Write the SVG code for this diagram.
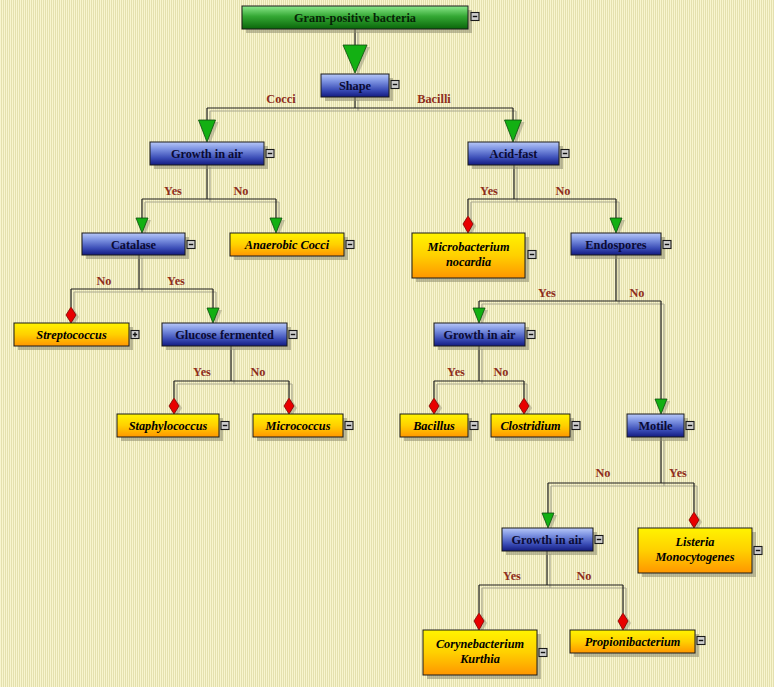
<svg xmlns="http://www.w3.org/2000/svg" width="774" height="687" viewBox="0 0 774 687">
<defs>
<pattern id="bg" x="0" y="0" width="2" height="4" patternUnits="userSpaceOnUse">
<rect x="0" y="0" width="1" height="4" fill="#f8f5cf"/>
<rect x="1" y="0" width="1" height="4" fill="#e4e0ae"/>
</pattern>
<linearGradient id="gBlue" x1="0" y1="0" x2="0" y2="1">
<stop offset="0" stop-color="#b8c8f8"/>
<stop offset="0.3" stop-color="#7e94e2"/>
<stop offset="0.7" stop-color="#3a4cb6"/>
<stop offset="1" stop-color="#131b80"/>
</linearGradient>
<linearGradient id="gOrange" x1="0" y1="0" x2="0" y2="1">
<stop offset="0" stop-color="#fff400"/>
<stop offset="0.5" stop-color="#ffd000"/>
<stop offset="1" stop-color="#ff9600"/>
</linearGradient>
<linearGradient id="gGreen" x1="0" y1="0" x2="0" y2="1">
<stop offset="0" stop-color="#8ce88c"/>
<stop offset="0.45" stop-color="#34a834"/>
<stop offset="1" stop-color="#0a660a"/>
</linearGradient>
<style>
.sh{fill:#8c8a70;opacity:0.55}
.box{stroke:#1a1a1a;stroke-width:1}
.blue{fill:url(#gBlue)}
.orange{fill:url(#gOrange)}
.green{fill:url(#gGreen)}
.t{font-family:"Liberation Serif","Times New Roman",serif;font-size:12.3px;font-weight:bold;text-anchor:middle}
.tb{fill:#0a0a34}
.to{fill:#000;font-style:italic}
.tg{fill:#062406}
.lbl{font-family:"Liberation Serif","Times New Roman",serif;font-size:12.3px;font-weight:bold;fill:#8e2e1c;text-anchor:middle}
.ln{fill:none;stroke:#1e1e1e;stroke-width:1.2}
.lns{fill:none;stroke:#aaa890;stroke-width:1.2}
.tri{fill:#13b013;stroke:#0c4a0c;stroke-width:0.8}
.dia{fill:#e80000;stroke:#7a0000;stroke-width:0.8}
.ash{fill:#8c8a70;opacity:0.45}
.mb{fill:#cdcdcd;stroke:#1a1a1a;stroke-width:1.1}
.mm{stroke:#111;stroke-width:1.4}
</style>
</defs>
<rect x="0" y="0" width="774" height="687" fill="url(#bg)"/>

<g id="connectors">
<g transform="translate(3,3)">
<path class="lns" d="M355,29 V45 M355,97 V108 M207,108 H513 M207,108 V120 M513,108 V120
M207,164 V199 M142,199 H276 M142,199 V218 M276,199 V218
M514,164 V199 M468,199 H616 M468,199 V216 M616,199 V218
M139,255 V289 M71,289 H213 M71,289 V307 M213,289 V308
M231,346 V381 M174,381 H289 M174,381 V398 M289,381 V398
M616,255 V301 M479,301 H661 M479,301 V308 M661,301 V399
M479,346 V381 M434,381 H524 M434,381 V398 M524,381 V398
M661,437 V483 M548,483 H694 M548,483 V513 M694,483 V512
M547,551 V585 M479,585 H623 M479,585 V613 M623,585 V613"/>
</g>
<path class="ln" d="M355,29 V45 M355,97 V108 M207,108 H513 M207,108 V120 M513,108 V120
M207,164 V199 M142,199 H276 M142,199 V218 M276,199 V218
M514,164 V199 M468,199 H616 M468,199 V216 M616,199 V218
M139,255 V289 M71,289 H213 M71,289 V307 M213,289 V308
M231,346 V381 M174,381 H289 M174,381 V398 M289,381 V398
M616,255 V301 M479,301 H661 M479,301 V308 M661,301 V399
M479,346 V381 M434,381 H524 M434,381 V398 M524,381 V398
M661,437 V483 M548,483 H694 M548,483 V513 M694,483 V512
M547,551 V585 M479,585 H623 M479,585 V613 M623,585 V613"/>
<g transform="translate(3,2)">
<path class="ash" d="M343,45 L367,45 L355,73 Z"/>
<path class="ash" d="M198.5,120 L215.5,120 L207,142 Z"/>
<path class="ash" d="M504.5,120 L521.5,120 L513,142 Z"/>
<path class="ash" d="M136,218 L148,218 L142,233 Z"/>
<path class="ash" d="M270,218 L282,218 L276,233 Z"/>
<path class="ash" d="M610,218 L622,218 L616,233 Z"/>
<path class="ash" d="M207,308 L219,308 L213,323 Z"/>
<path class="ash" d="M473,308 L485,308 L479,323 Z"/>
<path class="ash" d="M655,399 L667,399 L661,414 Z"/>
<path class="ash" d="M542,513 L554,513 L548,528 Z"/>
<path class="ash" d="M468,216 L473,224 L468,233 L463,224 Z"/>
<path class="ash" d="M71,307 L76,315 L71,323 L66,315 Z"/>
<path class="ash" d="M174,398 L179,406 L174,414 L169,406 Z"/>
<path class="ash" d="M289,398 L294,406 L289,414 L284,406 Z"/>
<path class="ash" d="M434,398 L439,406 L434,414 L429,406 Z"/>
<path class="ash" d="M524,398 L529,406 L524,414 L519,406 Z"/>
<path class="ash" d="M694,512 L699,520 L694,528 L689,520 Z"/>
<path class="ash" d="M479,613 L484,621 L479,630 L474,621 Z"/>
<path class="ash" d="M623,613 L628,621 L623,630 L618,621 Z"/>
</g>
<path class="tri" d="M343,45 L367,45 L355,73 Z"/>
<path class="tri" d="M198.5,120 L215.5,120 L207,142 Z"/>
<path class="tri" d="M504.5,120 L521.5,120 L513,142 Z"/>
<path class="tri" d="M136,218 L148,218 L142,233 Z"/>
<path class="tri" d="M270,218 L282,218 L276,233 Z"/>
<path class="tri" d="M610,218 L622,218 L616,233 Z"/>
<path class="tri" d="M207,308 L219,308 L213,323 Z"/>
<path class="tri" d="M473,308 L485,308 L479,323 Z"/>
<path class="tri" d="M655,399 L667,399 L661,414 Z"/>
<path class="tri" d="M542,513 L554,513 L548,528 Z"/>
<path class="dia" d="M468,216 L473,224 L468,233 L463,224 Z"/>
<path class="dia" d="M71,307 L76,315 L71,323 L66,315 Z"/>
<path class="dia" d="M174,398 L179,406 L174,414 L169,406 Z"/>
<path class="dia" d="M289,398 L294,406 L289,414 L284,406 Z"/>
<path class="dia" d="M434,398 L439,406 L434,414 L429,406 Z"/>
<path class="dia" d="M524,398 L529,406 L524,414 L519,406 Z"/>
<path class="dia" d="M694,512 L699,520 L694,528 L689,520 Z"/>
<path class="dia" d="M479,613 L484,621 L479,630 L474,621 Z"/>
<path class="dia" d="M623,613 L628,621 L623,630 L618,621 Z"/>
<text class="lbl" x="281" y="103">Cocci</text>
<text class="lbl" x="434" y="103">Bacilli</text>
<text class="lbl" x="173" y="195">Yes</text>
<text class="lbl" x="241" y="195">No</text>
<text class="lbl" x="489" y="195">Yes</text>
<text class="lbl" x="563" y="195">No</text>
<text class="lbl" x="104" y="285">No</text>
<text class="lbl" x="176" y="285">Yes</text>
<text class="lbl" x="202" y="376">Yes</text>
<text class="lbl" x="258" y="376">No</text>
<text class="lbl" x="547" y="297">Yes</text>
<text class="lbl" x="637" y="297">No</text>
<text class="lbl" x="456" y="376">Yes</text>
<text class="lbl" x="501" y="376">No</text>
<text class="lbl" x="603" y="477">No</text>
<text class="lbl" x="678" y="477">Yes</text>
<text class="lbl" x="512" y="580">Yes</text>
<text class="lbl" x="584" y="580">No</text>
</g>

<g id="n-root">
<rect class="sh" x="246" y="10" width="226" height="23"/>
<rect class="box green" x="242" y="6" width="226" height="23"/>
<text class="t tg" x="355" y="22">Gram-positive bacteria</text>
<rect class="mb" x="471" y="12.5" width="8" height="8"/><path class="mm" d="M472.8,16.5 H477.2"/>
</g>
<g id="n-shape">
<rect class="sh" x="325" y="78" width="68" height="23"/>
<rect class="box blue" x="321" y="74" width="68" height="23"/>
<text class="t tb" x="355" y="90">Shape</text>
<rect class="mb" x="391" y="80.5" width="8" height="8"/><path class="mm" d="M392.8,84.5 H397.2"/>
</g>
<g id="n-growth1">
<rect class="sh" x="154" y="146" width="114" height="23"/>
<rect class="box blue" x="150" y="142" width="114" height="23"/>
<text class="t tb" x="207" y="158">Growth in air</text>
<rect class="mb" x="266" y="149.5" width="8" height="8"/><path class="mm" d="M267.8,153.5 H272.2"/>
</g>
<g id="n-acidfast">
<rect class="sh" x="472" y="146" width="91" height="23"/>
<rect class="box blue" x="468" y="142" width="91" height="23"/>
<text class="t tb" x="513.5" y="158">Acid-fast</text>
<rect class="mb" x="561" y="149.5" width="8" height="8"/><path class="mm" d="M562.8,153.5 H567.2"/>
</g>
<g id="n-catalase">
<rect class="sh" x="86" y="237" width="103" height="22"/>
<rect class="box blue" x="82" y="233" width="103" height="22"/>
<text class="t tb" x="133.5" y="248.5">Catalase</text>
<rect class="mb" x="187" y="240.5" width="8" height="8"/><path class="mm" d="M188.8,244.5 H193.2"/>
</g>
<g id="n-anaerobic">
<rect class="sh" x="234" y="237" width="114" height="23"/>
<rect class="box orange" x="230" y="233" width="114" height="23"/>
<text class="t to" x="287" y="249">Anaerobic Cocci</text>
<rect class="mb" x="346" y="240.5" width="8" height="8"/><path class="mm" d="M347.8,244.5 H352.2"/>
</g>
<g id="n-microbacterium">
<rect class="sh" x="416" y="237" width="113" height="45"/>
<rect class="box orange" x="412" y="233" width="113" height="45"/>
<text class="t to" x="468.5" y="251">Microbacterium</text>
<text class="t to" x="468.5" y="266">nocardia</text>
<rect class="mb" x="528" y="250.5" width="8" height="8"/><path class="mm" d="M529.8,254.5 H534.2"/>
</g>
<g id="n-endospores">
<rect class="sh" x="575" y="237" width="90" height="22"/>
<rect class="box blue" x="571" y="233" width="90" height="22"/>
<text class="t tb" x="616" y="248.5">Endospores</text>
<rect class="mb" x="663" y="240.5" width="8" height="8"/><path class="mm" d="M664.8,244.5 H669.2"/>
</g>
<g id="n-streptococcus">
<rect class="sh" x="18" y="327" width="115" height="23"/>
<rect class="box orange" x="14" y="323" width="115" height="23"/>
<text class="t to" x="71.5" y="339">Streptococcus</text>
<rect class="mb" x="131" y="330.5" width="8" height="8"/><path class="mm" d="M132.8,334.5 H137.2 M135,332.3 V336.7"/>
</g>
<g id="n-glucose">
<rect class="sh" x="166" y="327" width="125" height="23"/>
<rect class="box blue" x="162" y="323" width="125" height="23"/>
<text class="t tb" x="224.5" y="339">Glucose fermented</text>
<rect class="mb" x="289" y="330.5" width="8" height="8"/><path class="mm" d="M290.8,334.5 H295.2"/>
</g>
<g id="n-growth2">
<rect class="sh" x="438" y="327" width="91" height="23"/>
<rect class="box blue" x="434" y="323" width="91" height="23"/>
<text class="t tb" x="479.5" y="339">Growth in air</text>
<rect class="mb" x="527" y="330.5" width="8" height="8"/><path class="mm" d="M528.8,334.5 H533.2"/>
</g>
<g id="n-staph">
<rect class="sh" x="121" y="418" width="102" height="23"/>
<rect class="box orange" x="117" y="414" width="102" height="23"/>
<text class="t to" x="168" y="430">Staphylococcus</text>
<rect class="mb" x="221" y="421.5" width="8" height="8"/><path class="mm" d="M222.8,425.5 H227.2"/>
</g>
<g id="n-micrococcus">
<rect class="sh" x="257" y="418" width="90" height="23"/>
<rect class="box orange" x="253" y="414" width="90" height="23"/>
<text class="t to" x="298" y="430">Micrococcus</text>
<rect class="mb" x="345" y="421.5" width="8" height="8"/><path class="mm" d="M346.8,425.5 H351.2"/>
</g>
<g id="n-bacillus">
<rect class="sh" x="404" y="418" width="68" height="23"/>
<rect class="box orange" x="400" y="414" width="68" height="23"/>
<text class="t to" x="434" y="430">Bacillus</text>
<rect class="mb" x="470" y="421.5" width="8" height="8"/><path class="mm" d="M471.8,425.5 H476.2"/>
</g>
<g id="n-clostridium">
<rect class="sh" x="495" y="418" width="79" height="23"/>
<rect class="box orange" x="491" y="414" width="79" height="23"/>
<text class="t to" x="530.5" y="430">Clostridium</text>
<rect class="mb" x="572" y="421.5" width="8" height="8"/><path class="mm" d="M573.8,425.5 H578.2"/>
</g>
<g id="n-motile">
<rect class="sh" x="631" y="418" width="57" height="23"/>
<rect class="box blue" x="627" y="414" width="57" height="23"/>
<text class="t tb" x="655.5" y="430">Motile</text>
<rect class="mb" x="686" y="421.5" width="8" height="8"/><path class="mm" d="M687.8,425.5 H692.2"/>
</g>
<g id="n-growth3">
<rect class="sh" x="506" y="532" width="91" height="23"/>
<rect class="box blue" x="502" y="528" width="91" height="23"/>
<text class="t tb" x="547.5" y="544">Growth in air</text>
<rect class="mb" x="595" y="535.5" width="8" height="8"/><path class="mm" d="M596.8,539.5 H601.2"/>
</g>
<g id="n-listeria">
<rect class="sh" x="642" y="532" width="114" height="45"/>
<rect class="box orange" x="638" y="528" width="114" height="45"/>
<text class="t to" x="695" y="546">Listeria</text>
<text class="t to" x="695" y="561">Monocytogenes</text>
<rect class="mb" x="754" y="546.5" width="8" height="8"/><path class="mm" d="M755.8,550.5 H760.2"/>
</g>
<g id="n-coryne">
<rect class="sh" x="427" y="634" width="114" height="45"/>
<rect class="box orange" x="423" y="630" width="114" height="45"/>
<text class="t to" x="480" y="648">Corynebacterium</text>
<text class="t to" x="480" y="663">Kurthia</text>
<rect class="mb" x="539" y="648.5" width="8" height="8"/><path class="mm" d="M540.8,652.5 H545.2"/>
</g>
<g id="n-propioni">
<rect class="sh" x="574" y="634" width="125" height="23"/>
<rect class="box orange" x="570" y="630" width="125" height="23"/>
<text class="t to" x="632.5" y="646">Propionibacterium</text>
<rect class="mb" x="697" y="636.5" width="8" height="8"/><path class="mm" d="M698.8,640.5 H703.2"/>
</g>
</svg>
